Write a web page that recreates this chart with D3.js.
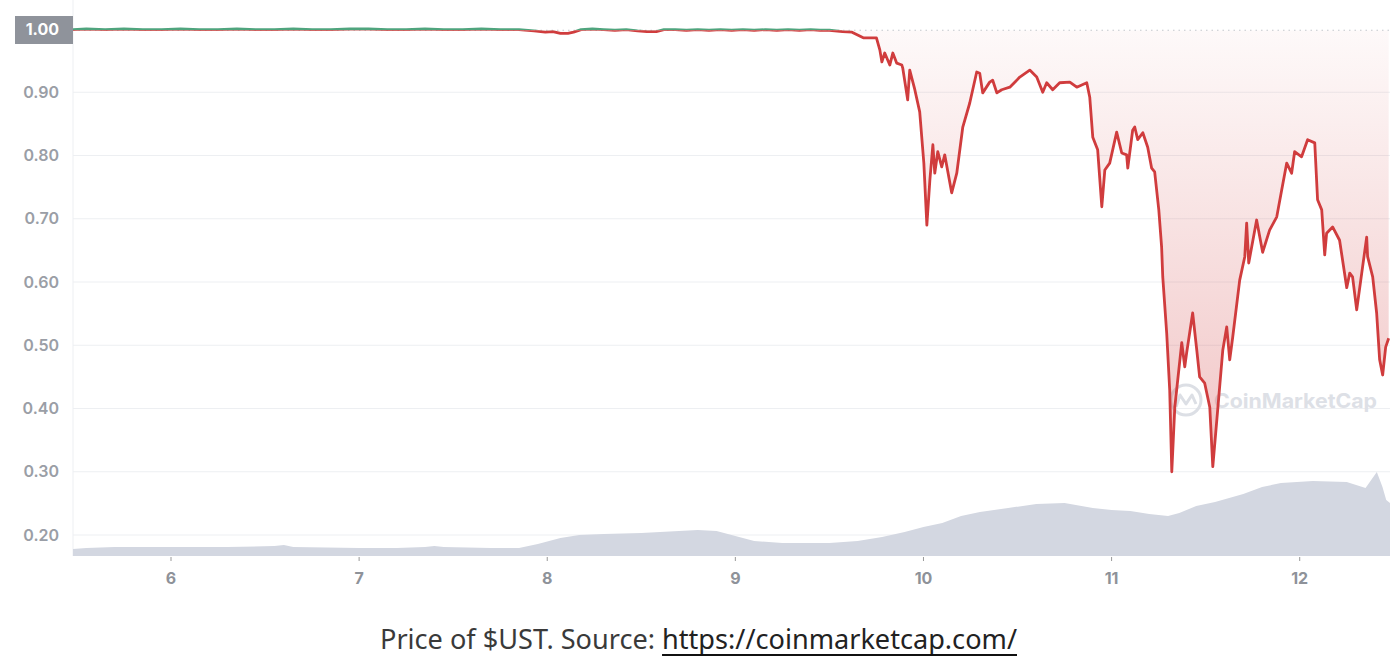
<!DOCTYPE html>
<html>
<head>
<meta charset="utf-8">
<script src="https://cdn.jsdelivr.net/npm/d3@7"></script>
<style>
  html, body { margin: 0; padding: 0; background: #fff; }
  svg { display: block; }
</style>
</head>
<body>
<svg id="chart"></svg>
<script>
// price of UST, days of May (fractional)
const days = [
  5.479, 5.55, 5.65, 5.75, 5.85, 5.95, 6.05, 6.15, 6.25, 6.35, 6.45, 6.55, 6.65, 6.75, 6.85, 6.95,
  7.05, 7.15, 7.25, 7.35, 7.45, 7.55, 7.65, 7.75, 7.85, 7.93, 7.99, 8.03, 8.07, 8.11, 8.14, 8.18,
  8.24, 8.30, 8.36, 8.42, 8.48, 8.53, 8.58, 8.62, 8.68, 8.74, 8.80, 8.86, 8.92, 8.98, 9.04, 9.10,
  9.16, 9.22, 9.28, 9.34, 9.40, 9.45, 9.50, 9.57, 9.62, 9.68, 9.75, 9.768, 9.779, 9.794, 9.821,
  9.837, 9.858, 9.885, 9.890, 9.916, 9.927, 9.954, 9.980, 10.002, 10.018, 10.034, 10.050, 10.060,
  10.076, 10.097, 10.113, 10.150, 10.177, 10.209, 10.246, 10.283, 10.299, 10.315, 10.352, 10.368,
  10.390, 10.416, 10.459, 10.512, 10.565, 10.602, 10.634, 10.655, 10.687, 10.724, 10.778, 10.815,
  10.868, 10.884, 10.900, 10.926, 10.948, 10.964, 10.990, 11.027, 11.054, 11.080, 11.086, 11.112,
  11.123, 11.139, 11.166, 11.192, 11.213, 11.229, 11.251, 11.266, 11.272, 11.293, 11.309, 11.320,
  11.336, 11.373, 11.389, 11.399, 11.431, 11.453, 11.468, 11.495, 11.522, 11.538, 11.564, 11.591,
  11.612, 11.628, 11.644, 11.681, 11.708, 11.718, 11.729, 11.771, 11.803, 11.840, 11.878, 11.904,
  11.931, 11.957, 11.973, 12.010, 12.042, 12.080, 12.095, 12.117, 12.133, 12.143, 12.175, 12.212,
  12.250, 12.266, 12.281, 12.303, 12.356, 12.361, 12.388, 12.409, 12.425, 12.441, 12.457, 12.473
]
const prices = [
  0.999, 1.000, 0.999, 1.000, 0.999, 0.999, 1.000, 0.999, 0.999, 1.000, 0.999, 0.999, 1.000, 0.999, 0.999, 1.000,
  1.000, 0.999, 0.999, 1.000, 0.999, 0.999, 1.000, 0.999, 0.999, 0.997, 0.995, 0.996, 0.993, 0.993, 0.995, 0.999,
  1.000, 0.999, 0.998, 0.999, 0.997, 0.996, 0.996, 0.999, 0.999, 0.998, 0.999, 0.998, 0.999, 0.998, 0.999, 0.998,
  0.999, 0.998, 0.999, 0.998, 0.999, 0.998, 0.998, 0.996, 0.995, 0.986, 0.986, 0.967, 0.948, 0.962, 0.943,
  0.962, 0.946, 0.943, 0.938, 0.888, 0.935, 0.904, 0.869, 0.788, 0.690, 0.761, 0.817, 0.772,
  0.806, 0.782, 0.801, 0.741, 0.772, 0.845, 0.883, 0.932, 0.930, 0.899, 0.916, 0.919,
  0.899, 0.904, 0.908, 0.924, 0.935, 0.924, 0.900, 0.915, 0.904, 0.915, 0.916, 0.908,
  0.915, 0.892, 0.829, 0.809, 0.719, 0.777, 0.788, 0.837, 0.804, 0.801, 0.780, 0.840,
  0.845, 0.825, 0.836, 0.813, 0.780, 0.774, 0.714, 0.655, 0.608, 0.519, 0.429, 0.300,
  0.402, 0.504, 0.466, 0.488, 0.551, 0.492, 0.450, 0.440, 0.402, 0.308, 0.398, 0.492,
  0.529, 0.477, 0.513, 0.603, 0.640, 0.693, 0.630, 0.698, 0.647, 0.682, 0.703, 0.745,
  0.788, 0.772, 0.806, 0.798, 0.825, 0.820, 0.730, 0.714, 0.643, 0.677, 0.687, 0.666,
  0.591, 0.614, 0.608, 0.556, 0.671, 0.640, 0.608, 0.551, 0.477, 0.453, 0.497, 0.511
]
// trading volume (relative units)
const volDays = [
  5.479, 5.55, 5.70, 6.00, 6.30, 6.55, 6.60, 6.65, 7.00, 7.20, 7.35, 7.40, 7.45, 7.70, 7.85, 7.95,
  8.07, 8.17, 8.30, 8.50, 8.70, 8.80, 8.90, 9.00, 9.10, 9.25, 9.50, 9.65, 9.78, 9.90, 10.00, 10.10,
  10.20, 10.30, 10.45, 10.60, 10.75, 10.90, 11.00, 11.10, 11.20, 11.30, 11.36, 11.45, 11.55, 11.70,
  11.80, 11.90, 12.07, 12.25, 12.35, 12.38, 12.41, 12.44, 12.46, 12.48
]
const volumes = [
  0.7, 0.8, 0.9, 0.9, 0.9, 1.0, 1.1, 0.9, 0.8, 0.8, 0.9, 1.0, 0.9, 0.8, 0.8, 1.2,
  1.8, 2.1, 2.2, 2.3, 2.5, 2.6, 2.5, 2.0, 1.5, 1.3, 1.3, 1.5, 1.9, 2.4, 2.9, 3.3,
  4.0, 4.4, 4.8, 5.2, 5.3, 4.8, 4.6, 4.5, 4.2, 4.0, 4.3, 5.0, 5.4, 6.2,
  6.9, 7.3, 7.5, 7.4, 6.8, 7.6, 8.4, 6.9, 5.6, 5.3
]
const yTicks = [0.20, 0.30, 0.40, 0.50, 0.60, 0.70, 0.80, 0.90]
const xTicks = [6, 7, 8, 9, 10, 11, 12]
const openPrice = 0.998
const captionText = 'Price of $UST. Source: '
const captionLink = 'https://coinmarketcap.com/'

const width = 1398
const height = 662
const left = 73
const right = 1390
const bottom = 556
const red = '#d03c3d'
const green = '#4fa47d'

const svg = d3.select('#chart').attr('width', width).attr('height', height)

const xScale = d3.scaleLinear().domain([5.479, 12.48]).range([left, right])
const yScale = d3.scaleLinear().domain([0.2, 1.0]).range([535, 29])
const volScale = d3.scaleLinear().domain([0, 10]).range([bottom, bottom - 100])
const baseY = yScale(openPrice)

const defs = svg.append('defs')
const grad = defs.append('linearGradient')
  .attr('id', 'fillDown')
  .attr('gradientUnits', 'userSpaceOnUse')
  .attr('x1', 0).attr('x2', 0)
  .attr('y1', baseY).attr('y2', yScale(0.3))
grad.append('stop').attr('offset', 0).attr('stop-color', red).attr('stop-opacity', 0.03)
grad.append('stop').attr('offset', 1).attr('stop-color', red).attr('stop-opacity', 0.3)

defs.append('clipPath').attr('id', 'clipUp')
  .append('rect').attr('x', left).attr('y', 0).attr('width', right - left).attr('height', baseY)
defs.append('clipPath').attr('id', 'clipDown')
  .append('rect').attr('x', left).attr('y', baseY).attr('width', right - left).attr('height', bottom - baseY)

// grid
const grid = svg.append('g').attr('class', 'grid')
grid.selectAll('line').data(yTicks).enter().append('line')
  .attr('x1', left).attr('x2', right)
  .attr('y1', d => yScale(d)).attr('y2', d => yScale(d))
  .attr('stroke', '#edeff2').attr('stroke-width', 1)
svg.append('line')
  .attr('x1', left).attr('x2', left).attr('y1', 0).attr('y2', bottom)
  .attr('stroke', '#edeff2')

// watermark
const wm = svg.append('g').attr('class', 'watermark')
wm.append('circle').attr('cx', 1186).attr('cy', 400).attr('r', 15)
  .attr('fill', 'none').attr('stroke', '#dcdfe5').attr('stroke-width', 3)
wm.append('path').attr('d', 'M1176,407 L1180,395 L1186,404 L1192,395 L1196,404')
  .attr('fill', 'none').attr('stroke', '#dcdfe5').attr('stroke-width', 3).attr('stroke-linejoin', 'round')
wm.append('text').attr('x', 1214).attr('y', 408)
  .attr('font-family', 'Inter, sans-serif').attr('font-weight', 700).attr('font-size', 20)
  .attr('fill', '#dde0e6').attr('textLength', 163).attr('lengthAdjust', 'spacingAndGlyphs')
  .text('CoinMarketCap')

// volume
const volArea = d3.area()
  .x((d, i) => xScale(volDays[i]))
  .y0(bottom)
  .y1(d => volScale(d))
svg.append('path').attr('d', volArea(volumes)).attr('fill', '#d3d7e1')

// price fill below open price
const fillArea = d3.area()
  .x((d, i) => xScale(days[i]))
  .y0(baseY)
  .y1(d => yScale(d))
svg.append('path').attr('d', fillArea(prices))
  .attr('fill', 'url(#fillDown)').attr('clip-path', 'url(#clipDown)')

// open price dotted line
svg.append('line')
  .attr('x1', left).attr('x2', right).attr('y1', baseY).attr('y2', baseY)
  .attr('stroke', '#c4c7cc').attr('stroke-width', 1.2).attr('stroke-dasharray', '1.5,4')

// price line, green above open, red below
const priceLine = d3.line()
  .x((d, i) => xScale(days[i]))
  .y(d => yScale(d))
svg.append('path').attr('d', priceLine(prices))
  .attr('fill', 'none').attr('stroke', green).attr('stroke-width', 2.8)
  .attr('stroke-linejoin', 'round').attr('clip-path', 'url(#clipUp)')
svg.append('path').attr('d', priceLine(prices))
  .attr('fill', 'none').attr('stroke', red).attr('stroke-width', 2.8)
  .attr('stroke-linejoin', 'round').attr('clip-path', 'url(#clipDown)')

// y axis labels
const yAxisG = svg.append('g').attr('class', 'y-axis')
yAxisG.selectAll('text').data(yTicks).enter().append('text')
  .attr('x', 59).attr('y', d => yScale(d))
  .attr('dy', '0.35em').attr('text-anchor', 'end')
  .attr('font-family', 'Inter, sans-serif').attr('font-weight', 600).attr('font-size', 16)
  .attr('fill', '#9a9ea6')
  .text(d => d3.format('.2f')(d))
yAxisG.append('rect').attr('x', 15).attr('y', 16).attr('width', left - 15).attr('height', 28)
  .attr('fill', '#8f939b')
yAxisG.append('text').attr('x', 59).attr('y', yScale(1.0))
  .attr('dy', '0.35em').attr('text-anchor', 'end')
  .attr('font-family', 'Inter, sans-serif').attr('font-weight', 700).attr('font-size', 16)
  .attr('fill', '#fff').text('1.00')

// x axis
const xAxisG = svg.append('g').attr('class', 'x-axis')
xAxisG.selectAll('line').data(xTicks).enter().append('line')
  .attr('x1', d => xScale(d)).attr('x2', d => xScale(d))
  .attr('y1', bottom + 1).attr('y2', bottom + 5)
  .attr('stroke', '#999').attr('stroke-width', 1)
xAxisG.selectAll('text').data(xTicks).enter().append('text')
  .attr('x', d => xScale(d)).attr('y', 578)
  .attr('dy', '0.35em').attr('text-anchor', 'middle')
  .attr('font-family', 'Inter, sans-serif').attr('font-weight', 700).attr('font-size', 16)
  .attr('fill', '#8e9299')
  .text(d => d)

// caption
const caption = svg.append('text')
  .attr('x', 380).attr('y', 649)
  .attr('font-family', '"Noto Sans", sans-serif').attr('font-size', 27)
  .attr('fill', '#3a3a3a')
  .attr('textLength', 637).attr('lengthAdjust', 'spacingAndGlyphs')
caption.append('tspan').text(captionText)
caption.append('tspan').attr('fill', '#222').text(captionLink)
const node = caption.node()
const n0 = captionText.length
const n1 = n0 + captionLink.length - 1
const ux0 = node.getStartPositionOfChar(n0).x
const ux1 = node.getEndPositionOfChar(n1).x
svg.append('line').attr('x1', ux0).attr('x2', ux1).attr('y1', 655).attr('y2', 655)
  .attr('stroke', '#111').attr('stroke-width', 2)
</script>
</body>
</html>
